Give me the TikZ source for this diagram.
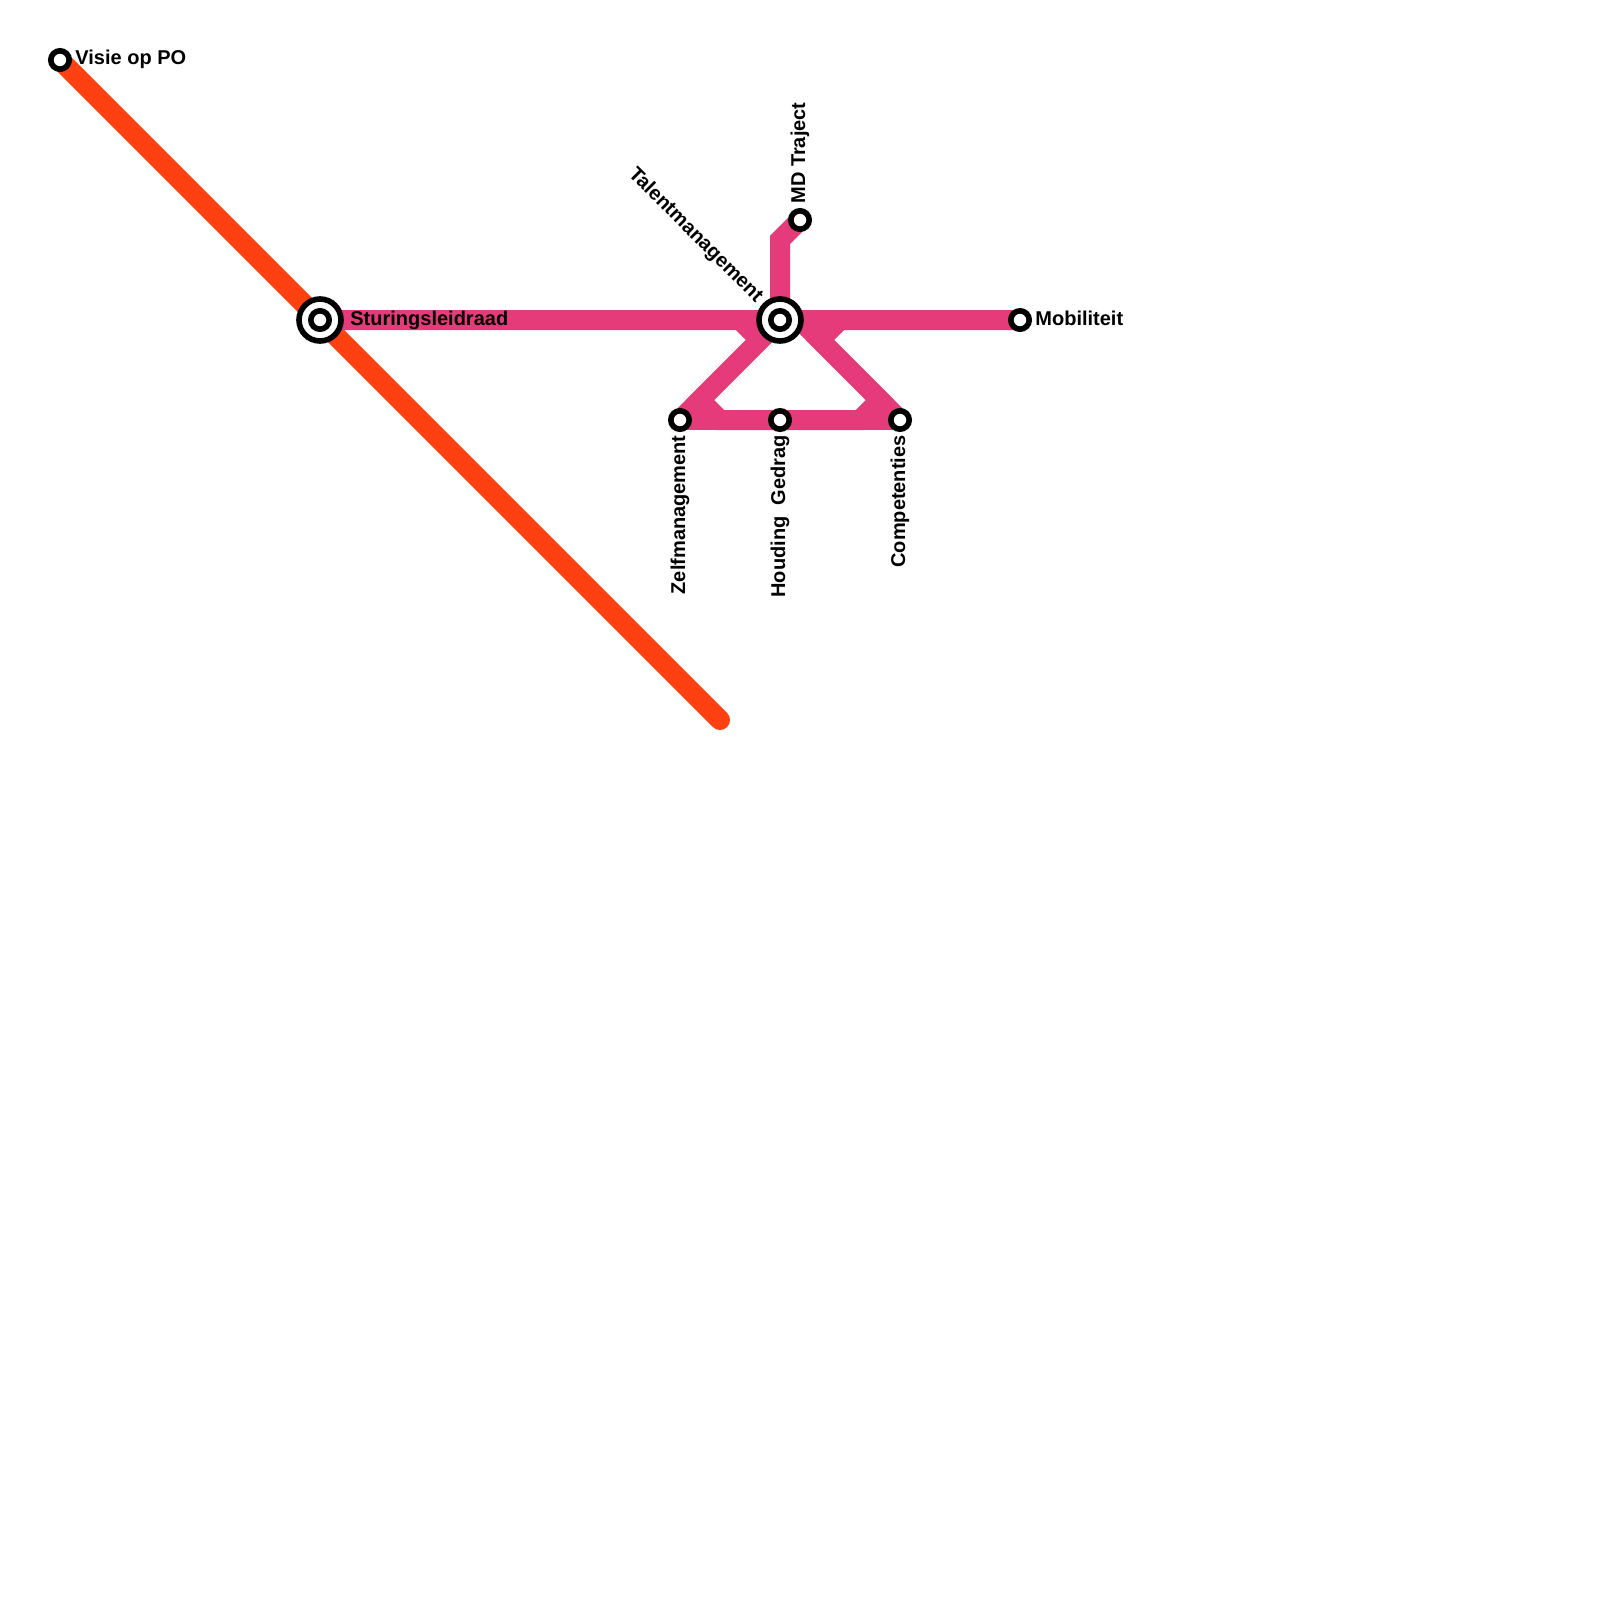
\documentclass[tikz,border=0pt]{standalone}
\usepackage{fontspec}
\setmainfont{Liberation Sans}
\usepackage{tikz}
\usetikzlibrary{positioning}
\definecolor{LinePink}{HTML}{E63B7A}
\definecolor{LineRed}{HTML}{FF4112}

\begin{document}
\begin{tikzpicture}[
  x=0.5pt,y=-0.5pt,
  metroline/.style={line width=10pt,line join=miter,draw=LinePink},
  stopnode/.style={
    circle,draw=black,fill=white,line width=2.8pt,
    minimum size=9.2pt,inner sep=0pt
  },
  hubnode/.style={
    circle,draw=black,fill=white,line width=2.8pt,
    minimum size=21pt,inner sep=0pt
  },
  stoplabel/.style={font=\bfseries\fontsize{10}{12}\selectfont,inner sep=0pt,text=black}
]
  \useasboundingbox (0,0) rectangle (1600,1600);

  \coordinate (visie) at (60,60);
  \coordinate (sturing) at (320,320);
  \coordinate (talent) at (780,320);
  \coordinate (redend) at (720,720);
  \coordinate (mdtraject) at (800,220);
  \coordinate (mobiliteit) at (1020,320);
  \coordinate (zelf) at (680,420);
  \coordinate (gedrag) at (780,420);
  \coordinate (comp) at (900,420);

  % lines
  \draw[metroline,draw=LineRed,line cap=round] (visie) -- (redend);
  \draw[metroline] (sturing) -- (740,320) -- (760,340) -- (700,400) -- (720,420) -- (gedrag);
  \draw[metroline] (mobiliteit) -- (840,320) -- (820,340) -- (880,400) -- (860,420) -- (gedrag);
  \draw[metroline] (talent) -- (780,240) -- (mdtraject);
  \draw[metroline] (sturing) -- (mobiliteit);
  \draw[metroline] (talent) -- (zelf);
  \draw[metroline] (zelf) -- (comp);
  \draw[metroline] (800,320) -- (comp);

  % stations
  \node[stopnode] (visienode) at (visie) {};
  \node[hubnode] (sturinghub) at (sturing) {};
  \node[stopnode] (sturingnode) at (sturing) {};
  \node[hubnode] (talenthub) at (talent) {};
  \node[stopnode] (talentnode) at (talent) {};
  \node[stopnode] (mdnode) at (mdtraject) {};
  \node[stopnode] (mobnode) at (mobiliteit) {};
  \node[stopnode] (zelfnode) at (zelf) {};
  \node[stopnode] (gedragnode) at (gedrag) {};
  \node[stopnode] (compnode) at (comp) {};

  % labels
  \node[stoplabel,anchor=base west] (visielabel) at (75,65) {Visie op PO};
  \node[stoplabel,anchor=base west] (sturinglabel) at (350,325) {Sturingsleidraad};
  \node[stoplabel,anchor=base west] (moblabel) at (1035,325) {Mobiliteit};
  \node[stoplabel,anchor=west,rotate=90] (mdlabel) at (800,204) {MD Traject};
  \node[stoplabel,anchor=east,rotate=90] (zelftext) at (680,435) {Zelfmanagement};
  \node[stoplabel,anchor=east,rotate=90] (gedragtext) at (780,435) {Houding~~Gedrag};
  \node[stoplabel,anchor=east,rotate=90] (comptext) at (900,435) {Competenties};
  \node[stoplabel,anchor=east,rotate=-45] (talenttext) at (759.5,299.5) {Talentmanagement};
\end{tikzpicture}
\end{document}
